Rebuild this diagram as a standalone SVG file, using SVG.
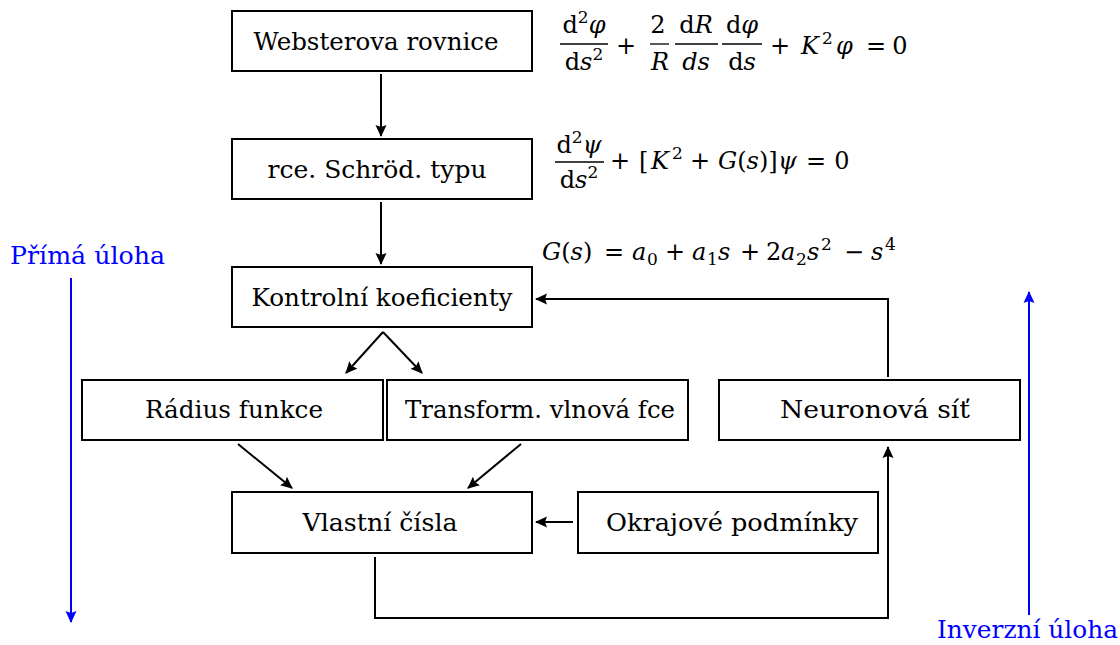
<svg xmlns="http://www.w3.org/2000/svg" width="1120" height="645" viewBox="0 0 1120 645">
<defs>
<style>
.box{fill:#fff;stroke:#000;stroke-width:2}
.t{font-family:"DejaVu Serif","Liberation Serif",serif;font-size:24px;fill:#000}
.c{text-anchor:middle}
.i{font-style:italic}
.sup{font-size:17px}
.ln{fill:none;stroke:#000;stroke-width:2}
.bl{fill:none;stroke:#0000ff;stroke-width:2}
.bt{font-family:"DejaVu Serif","Liberation Serif",serif;font-size:24px;fill:#0000ff}
.bar{stroke:#000;stroke-width:1.3}
</style>
<marker id="ah" markerWidth="12" markerHeight="12" refX="11" refY="6" orient="auto" markerUnits="userSpaceOnUse">
<path d="M0,0.5 L12,6 L0,11.5 L2,6 z" fill="#000"/>
</marker>
<marker id="ahb" markerWidth="12" markerHeight="12" refX="11" refY="6" orient="auto" markerUnits="userSpaceOnUse">
<path d="M0,0.5 L12,6 L0,11.5 L2,6 z" fill="#0000ff"/>
</marker>
</defs>
<rect width="1120" height="645" fill="#fff"/>

<g id="connectors">
<line class="ln" x1="381" y1="74" x2="381" y2="136" marker-end="url(#ah)"/>
<line class="ln" x1="381" y1="202" x2="381" y2="264" marker-end="url(#ah)"/>
<line class="ln" x1="383" y1="332" x2="346" y2="373" marker-end="url(#ah)"/>
<line class="ln" x1="383" y1="332" x2="422" y2="373" marker-end="url(#ah)"/>
<line class="ln" x1="238" y1="444" x2="292" y2="488" marker-end="url(#ah)"/>
<line class="ln" x1="521" y1="444" x2="468" y2="488" marker-end="url(#ah)"/>
<line class="ln" x1="573" y1="522" x2="536" y2="522" marker-end="url(#ah)"/>
<polyline class="ln" points="375,557 375,618 888,618 888,447" marker-end="url(#ah)"/>
<polyline class="ln" points="888,377 888,299 536,299" marker-end="url(#ah)"/>
<line class="bl" x1="71" y1="278" x2="71" y2="622" marker-end="url(#ahb)"/>
<line class="bl" x1="1029" y1="615" x2="1029" y2="292" marker-end="url(#ahb)"/>
</g>

<g id="webster">
<rect class="box" x="232" y="11" width="300" height="60"/>
<text class="t c" x="376" y="50" textLength="245" lengthAdjust="spacingAndGlyphs">Websterova rovnice</text>
</g>
<g id="schrod">
<rect class="box" x="232" y="139" width="300" height="60"/>
<text class="t c" x="377" y="178" textLength="219" lengthAdjust="spacingAndGlyphs">rce. Schröd. typu</text>
</g>
<g id="kontrolni">
<rect class="box" x="232" y="267" width="300" height="60"/>
<text class="t c" x="382" y="306" textLength="261" lengthAdjust="spacingAndGlyphs">Kontrolní koeficienty</text>
</g>
<g id="radius">
<rect class="box" x="82" y="380" width="301" height="60"/>
<text class="t c" x="234" y="418" textLength="178" lengthAdjust="spacingAndGlyphs">Rádius funkce</text>
</g>
<g id="transform">
<rect class="box" x="387" y="380" width="301" height="60"/>
<text class="t c" x="540" y="418" textLength="270" lengthAdjust="spacingAndGlyphs">Transform. vlnová fce</text>
</g>
<g id="neuronova">
<rect class="box" x="719" y="380" width="301" height="60"/>
<text class="t c" x="875" y="418" textLength="190" lengthAdjust="spacingAndGlyphs">Neuronová síť</text>
</g>
<g id="vlastni">
<rect class="box" x="232" y="492" width="300" height="61"/>
<text class="t c" x="380" y="531" textLength="155" lengthAdjust="spacingAndGlyphs">Vlastní čísla</text>
</g>
<g id="okrajove">
<rect class="box" x="578" y="492" width="300" height="61"/>
<text class="t c" x="732" y="531" textLength="252" lengthAdjust="spacingAndGlyphs">Okrajové podmínky</text>
</g>

<g id="eq1">
<text class="t c" x="584" y="33">d<tspan class="sup" dy="-10">2</tspan><tspan class="i" dy="10">φ</tspan></text>
<line class="bar" x1="560" y1="44" x2="608" y2="44"/>
<text class="t c" x="584" y="70">d<tspan class="i">s</tspan><tspan class="sup" dy="-10">2</tspan></text>
<text class="t c" x="626" y="54">+</text>
<text class="t c" x="658" y="33">2</text>
<line class="bar" x1="650" y1="44" x2="669" y2="44"/>
<text class="t c i" x="660" y="70">R</text>
<text class="t c" x="696" y="33">d<tspan class="i">R</tspan></text>
<line class="bar" x1="675" y1="44" x2="718" y2="44"/>
<text class="t c i" x="696" y="70">ds</text>
<text class="t c" x="742" y="33">d<tspan class="i">φ</tspan></text>
<line class="bar" x1="722" y1="44" x2="762" y2="44"/>
<text class="t c" x="742" y="70">d<tspan class="i">s</tspan></text>
<text class="t c" x="780" y="54">+</text>
<text class="t i" x="801" y="54">K</text>
<text class="t sup" x="822" y="44">2</text>
<text class="t i" x="836" y="54">φ</text>
<text class="t c" x="876" y="54">=</text>
<text class="t c" x="900" y="54">0</text>
</g>

<g id="eq2">
<text class="t c" x="579" y="153">d<tspan class="sup" dy="-10">2</tspan><tspan class="i" dy="10">ψ</tspan></text>
<line class="bar" x1="555" y1="162" x2="604" y2="162"/>
<text class="t c" x="579" y="188">d<tspan class="sup" dy="0"></tspan><tspan class="i">s</tspan><tspan class="sup" dy="-10">2</tspan></text>
<text class="t c" x="620" y="169">+</text>
<text class="t" x="639" y="169">[</text>
<text class="t i" x="651" y="169">K</text>
<text class="t sup" x="672" y="159">2</text>
<text class="t c" x="700" y="169">+</text>
<text class="t" x="718" y="169"><tspan class="i">G</tspan>(<tspan class="i">s</tspan>)]</text>
<text class="t i" x="778" y="169">ψ</text>
<text class="t c" x="816" y="169">=</text>
<text class="t c" x="842" y="169">0</text>
</g>

<g id="eq3">
<text class="t" x="542" y="260"><tspan class="i">G</tspan>(<tspan class="i">s</tspan>)</text>
<text class="t c" x="614" y="260">=</text>
<text class="t i" x="632" y="260">a</text>
<text class="t sup" x="647" y="265">0</text>
<text class="t c" x="675" y="260">+</text>
<text class="t i" x="692" y="260">a</text>
<text class="t sup" x="707" y="265">1</text>
<text class="t i" x="718" y="260">s</text>
<text class="t c" x="750" y="260">+</text>
<text class="t" x="766" y="260">2</text>
<text class="t i" x="781" y="260">a</text>
<text class="t sup" x="796" y="265">2</text>
<text class="t i" x="807" y="260">s</text>
<text class="t sup" x="821" y="250">2</text>
<text class="t c" x="854" y="260">−</text>
<text class="t i" x="871" y="260">s</text>
<text class="t sup" x="885" y="250">4</text>
</g>

<g id="labels">
<text class="bt" x="10" y="264" textLength="155" lengthAdjust="spacingAndGlyphs">Přímá úloha</text>
<text class="bt" x="937" y="638" textLength="181" lengthAdjust="spacingAndGlyphs">Inverzní úloha</text>
</g>
</svg>
